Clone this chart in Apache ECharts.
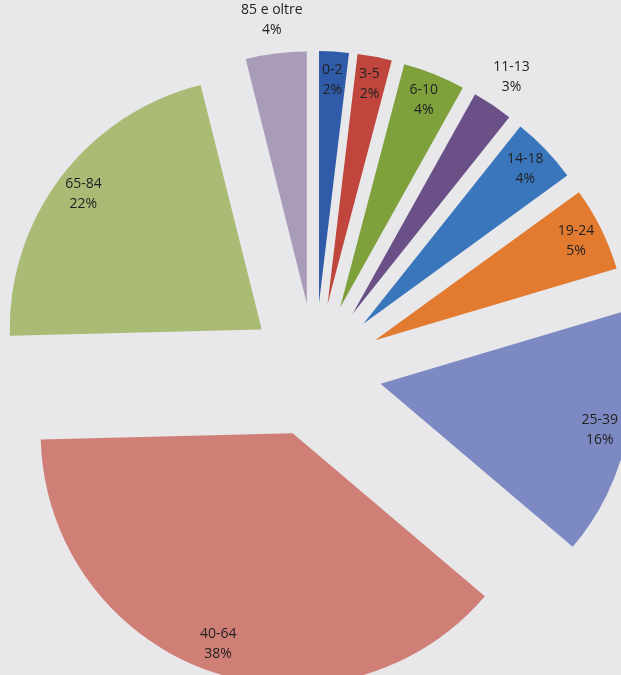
<!DOCTYPE html>
<html>
<head>
<meta charset="utf-8">
<script src="https://cdn.jsdelivr.net/npm/echarts@6/dist/echarts.min.js"></script>
<style>
html,body{margin:0;padding:0;background:#e8e8ea;}
#chart{width:621px;height:675px;}
</style>
</head>
<body>
<div id="chart"></div>
<script>
// Data (percent shares; labels rounded)
const categories = ['0-2', '3-5', '6-10', '11-13', '14-18', '19-24', '25-39', '40-64', '65-84', '85 e oltre'];
const values = [1.9, 2.2, 4.0, 2.6, 4.3, 5.4, 15.8, 38.4, 21.5, 3.9];
const colors = ['#2f5ba8', '#c0463d', '#7ea13c', '#6a5087', '#3a76bb', '#e27a2f', '#7c89c2', '#d07f76', '#a9bb74', '#a99cb6'];
// which labels sit outside the slice
const outsideLabels = ['11-13', '85 e oltre'];

const CENTER = [315, 370];
const R = 252;
const OFFSET = 67;

function baseItems(showFn) {
  return categories.map((c, i) => ({
    name: c,
    value: values[i],
    selected: true,
    itemStyle: { color: colors[i] },
    label: { show: showFn(c) }
  }));
}

const labelStyle = {
  position: 'inside',
  formatter: '{b}\n{d}%',
  color: '#222',
  fontFamily: 'Open Sans',
  fontSize: 14,
  lineHeight: 20
};

const common = {
  type: 'pie',
  center: CENTER,
  startAngle: 90,
  clockwise: true,
  selectedMode: 'multiple',
  selectedOffset: OFFSET,
  percentPrecision: 0,
  avoidLabelOverlap: false,
  labelLine: { show: false },
  emphasis: { disabled: true },
  minShowLabelAngle: 0
};

const chart = echarts.init(document.getElementById('chart'));
chart.setOption({
  animation: false,
  backgroundColor: '#e8e8ea',
  series: [
    Object.assign({}, common, {
      name: 'main',
      radius: [0, R],
      label: { show: false },
      itemStyle: { borderWidth: 0 },
      data: baseItems(() => false)
    }),
    Object.assign({}, common, {
      name: 'labelsInside',
      silent: true,
      radius: [195, 247],
      itemStyle: { color: 'rgba(0,0,0,0)', borderWidth: 0 },
      label: labelStyle,
      data: baseItems(c => outsideLabels.indexOf(c) < 0).map(d => Object.assign(d, { itemStyle: { color: 'rgba(0,0,0,0)' } }))
    }),
    Object.assign({}, common, {
      name: 'labelsOutside',
      silent: true,
      radius: [268, 298],
      itemStyle: { color: 'rgba(0,0,0,0)', borderWidth: 0 },
      label: labelStyle,
      data: baseItems(c => outsideLabels.indexOf(c) >= 0).map(d => Object.assign(d, { itemStyle: { color: 'rgba(0,0,0,0)' } }))
    })
  ]
});
</script>
</body>
</html>
